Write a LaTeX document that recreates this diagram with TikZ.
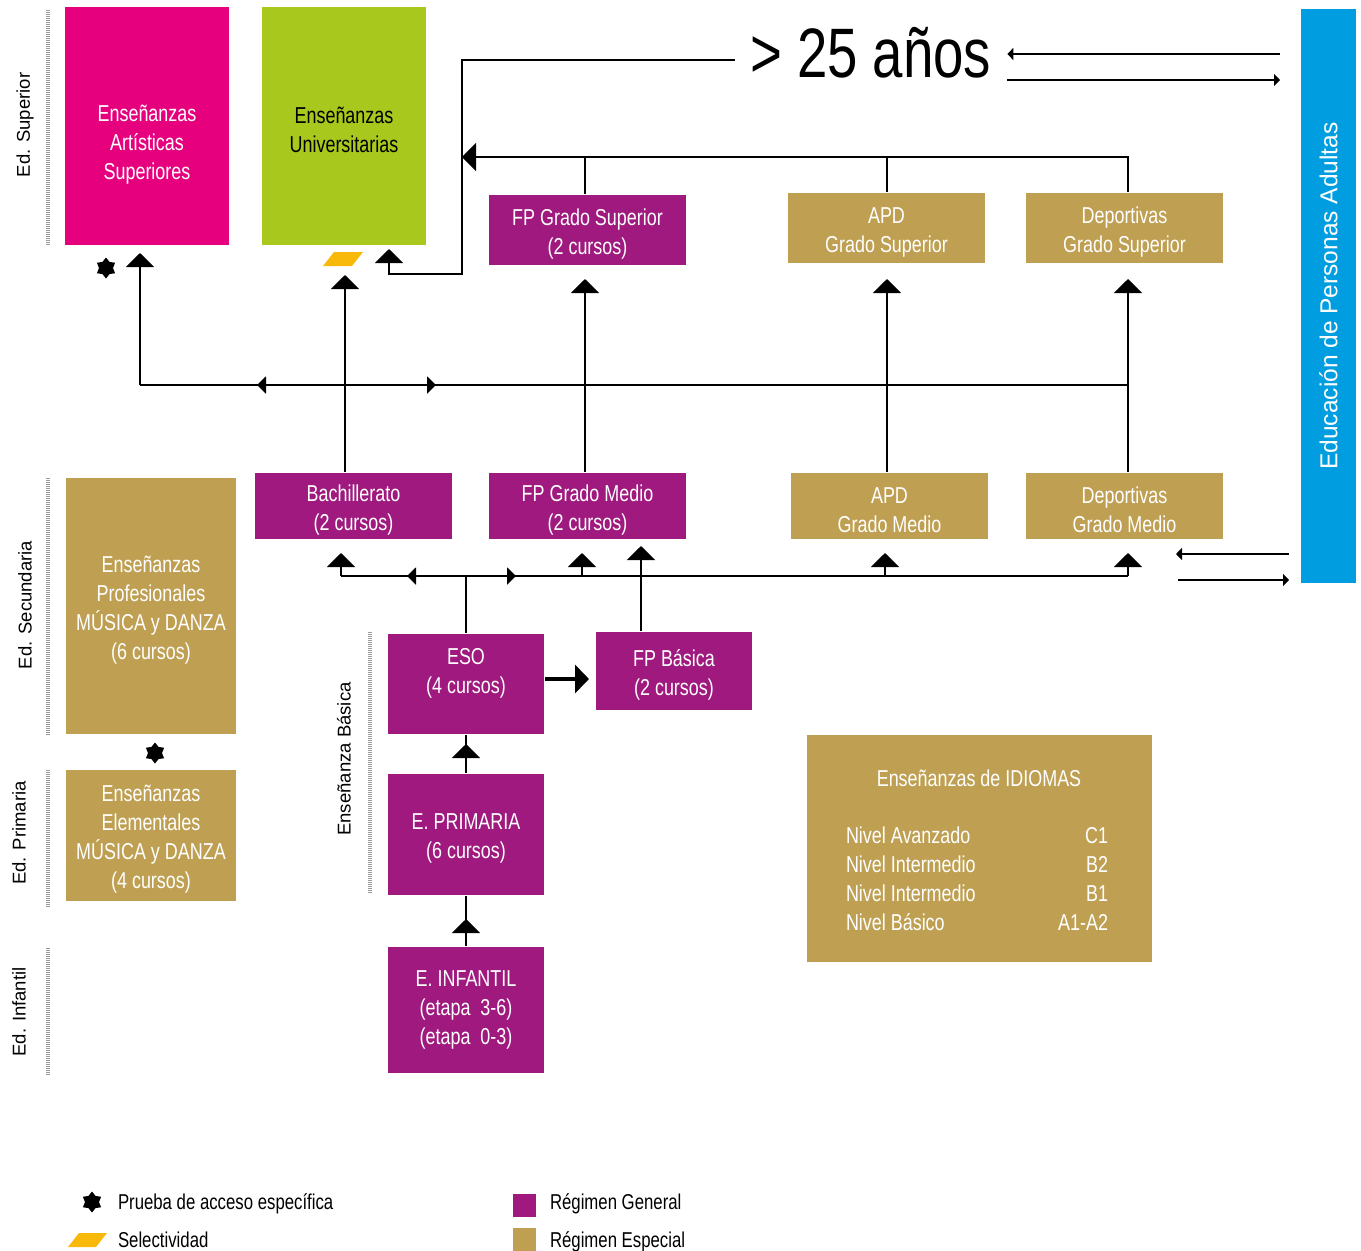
\documentclass[tikz,border=0pt]{standalone}
\usepackage{fontspec}
\setmainfont{Liberation Sans}
\newfontfamily\narrow[FakeStretch=0.78]{Liberation Sans}
\usetikzlibrary{arrows.meta,shapes.geometric}
\definecolor{rosa}{RGB}{230,0,126}
\definecolor{verde}{RGB}{168,200,30}
\definecolor{morado}{RGB}{159,25,127}
\definecolor{oro}{RGB}{191,160,83}
\definecolor{azul}{RGB}{0,158,224}
\definecolor{amarillo}{RGB}{248,185,10}
\newcommand\alto{\rule{0pt}{24pt}}
\begin{document}
\begin{tikzpicture}[x=1pt,y=-1pt,line width=2pt,
  bigtip/.tip={Triangle[width=28pt,length=14pt]},
  midtip/.tip={Triangle[width=17pt,length=9pt]},
  thintip/.tip={Triangle[width=12pt,length=6pt]},
  txt/.style={text=white,align=center,inner sep=0pt,font=\narrow\fontsize{23}{29}\selectfont},
  box/.style={txt,fill=#1},
  lbl/.style={rotate=90,inner sep=0pt,font=\fontsize{18.5}{22}\selectfont},
  leg/.style={anchor=base west,inner sep=0pt,font=\narrow\fontsize{21.5}{26}\selectfont},
  bar/.style={line width=4pt,black!40,dash pattern=on 1pt off 1pt},
  acceso/.style={star,star points=6,star point ratio=1.5,fill=black,inner sep=0pt,minimum size=21pt}]
\useasboundingbox (0,0) rectangle (1361,1251);
\draw[bar] (48,10)--(48,245);
\draw[bar] (48,478)--(48,735);
\draw[bar] (48,770)--(48,908);
\draw[bar] (48,948)--(48,1075);
\draw[bar] (370,632)--(370,893);
\node[lbl] (lsup) at (25,125) {Ed. Superior};
\node[lbl] (lsec) at (25,605) {Ed. Secundaria};
\node[lbl] (lpri) at (19,833) {Ed. Primaria};
\node[lbl] (linf) at (19,1012) {Ed. Infantil};
\node[lbl] (lbas) at (344,759) {Enseñanza Básica};
\node[box=rosa,minimum width=164,minimum height=238] (art) at (147,126) {\alto~\\Enseñanzas\\Artísticas\\Superiores};
\node[box=verde,text=black,minimum width=164,minimum height=238] (uni) at (344,126) {\alto Enseñanzas\\Universitarias};
\node[box=morado,minimum width=197,minimum height=70] (fpgs) at (587.5,230) {\alto FP Grado Superior\\(2 cursos)};
\node[box=oro,minimum width=197,minimum height=70] (apdgs) at (886.5,228) {\alto APD\\Grado Superior};
\node[box=oro,minimum width=197,minimum height=70] (depgs) at (1124.5,228) {\alto Deportivas\\Grado Superior};
\node[box=morado,minimum width=197,minimum height=66] (bach) at (353.5,506) {\alto Bachillerato\\(2 cursos)};
\node[box=morado,minimum width=197,minimum height=66] (fpgm) at (587.5,506) {\alto FP Grado Medio\\(2 cursos)};
\node[box=oro,minimum width=197,minimum height=66] (apdgm) at (889.5,506) {\alto APD\\Grado Medio};
\node[box=oro,minimum width=197,minimum height=66] (depgm) at (1124.5,506) {\alto Deportivas\\Grado Medio};
\node[box=oro,minimum width=170,minimum height=256] (prof) at (151,606) {\alto Enseñanzas\\Profesionales\\MÚSICA y DANZA\\(6 cursos)};
\node[box=oro,minimum width=170,minimum height=131] (elem) at (151,835.5) {\alto Enseñanzas\\Elementales\\MÚSICA y DANZA\\(4 cursos)};
\node[box=morado,minimum width=156,minimum height=100] (eso) at (466,684) {\alto ESO\\(4 cursos)\\~\rule[-6pt]{0pt}{6pt}};
\node[box=morado,minimum width=156,minimum height=78] (fpb) at (674,671) {\alto FP Básica\\(2 cursos)};
\node[box=morado,minimum width=156,minimum height=121] (prim) at (466,834.5) {\alto E. PRIMARIA\\(6 cursos)};
\node[box=morado,minimum width=156,minimum height=126] (inf) at (466,1010) {E. INFANTIL\\(etapa~~3-6)\\(etapa~~0-3)};
\node[box=oro,minimum width=345,minimum height=227] (idi) at (979.5,848.5) {};
\node[txt] (iditit) at (979,778) {Enseñanzas de IDIOMAS};
\node[txt,anchor=north] (idiniv) at (977,822) {\begin{tabular*}{262pt}{@{}l@{\extracolsep{\fill}}r@{}}
Nivel Avanzado&C1\\Nivel Intermedio&B2\\Nivel Intermedio&B1\\Nivel Básico&A1-A2\end{tabular*}};
\node[fill=azul,text=white,rotate=90,inner sep=0pt,minimum width=574,minimum height=55,
  font=\fontsize{24.5}{29}\selectfont] (epa) at (1328.5,296) {Educación de Personas Adultas};
\node[anchor=base west,inner sep=0pt,font=\narrow\fontsize{70}{70}\selectfont] (edad) at (749,77) {> 25 años};
\node[acceso] (s1) at (106,268) {};
\node[acceso] (s2) at (155,753) {};
\node[acceso] (s3) at (92,1202) {};
\fill[amarillo] (323,266)--(352,266)--(363,252)--(334,252)--cycle;
\fill[amarillo] (68,1247)--(96,1247)--(107,1233)--(79,1233)--cycle;
\coordinate (xb) at (345,0); \coordinate (xf) at (585,0);
\coordinate (xp) at (887,0); \coordinate (xd) at (1128,0);
\coordinate (xq) at (641,0);
\coordinate (c1) at (140,385); \coordinate (c2) at (1128,385);
\draw (c1)--(c2);
\draw[-bigtip,shorten >=7] (c1)--(art.south -| c1);
\draw[-midtip] (c2)--(257,385);
\draw[-midtip] (c1)--(436,385);
\draw[-bigtip,shorten >=29] (bach.north -| xb)--(uni.south -| xb);
\draw[-bigtip,shorten >=13] (fpgm.north -| xf)--(fpgs.south -| xf);
\draw[-bigtip,shorten >=15] (apdgm.north -| xp)--(apdgs.south -| xp);
\draw[-bigtip,shorten >=15] (depgm.north -| xd)--(depgs.south -| xd);
\coordinate (t0) at (462,60); \coordinate (t1) at (462,157); \coordinate (t2) at (389,274);
\draw[-bigtip] (depgs.north -| xd) |- (t1);
\draw (fpgs.north -| xf)--(xf |- t1);
\draw (apdgs.north -| xp)--(xp |- t1);
\draw[-bigtip,shorten <=14,shorten >=3] (edad.west |- t0)--(t0) |- (t2)--(t2 |- uni.south);
\coordinate (r1) at (0,54); \coordinate (r2) at (0,80);
\coordinate (r3) at (1176,554); \coordinate (r4) at (1178,580);
\draw[-thintip,shorten <=20,shorten >=15] (epa.north |- r1)--(edad.east |- r1);
\draw[-thintip,shorten <=15,shorten >=20] (edad.east |- r2)--(epa.north |- r2);
\draw[-thintip,shorten <=11] (epa.north |- r3)--(r3);
\draw[-thintip,shorten >=11] (r4)--(epa.north |- r4);
\coordinate (l1) at (341,576); \coordinate (l2) at (1128,576);
\coordinate (l3) at (582,576); \coordinate (l4) at (885,576);
\draw (l1)--(l2);
\draw[-midtip] (l2)--(407,576);
\draw[-midtip] (l1)--(516,576);
\draw[-bigtip,shorten >=13] (l1)--(l1 |- bach.south);
\draw[-bigtip,shorten >=13] (l3)--(l3 |- fpgm.south);
\draw[-bigtip,shorten >=13] (l4)--(l4 |- apdgm.south);
\draw[-bigtip,shorten >=13] (l2)--(l2 |- depgm.south);
\draw (eso.north)--(eso.north |- l1);
\draw[-bigtip,shorten >=6] (fpb.north -| xq)--(xq |- fpgm.south);
\draw[-bigtip,line width=3.5pt,shorten >=6] (eso.east |- 0,679)--(fpb.west |- 0,679);
\draw (prim.north)--(eso.south);
\draw[-bigtip] (prim.north)--++(0,-29);
\draw (inf.north)--(prim.south);
\draw[-bigtip] (inf.north)--++(0,-27);
\node[leg] (lg1) at (117,1209) {Prueba de acceso específica};
\node[leg] (lg2) at (117,1247) {Selectividad};
\node[fill=morado,inner sep=0pt,minimum size=23] (sq1) at (524,1205) {};
\node[fill=oro,inner sep=0pt,minimum size=23] (sq2) at (524,1239) {};
\node[leg] (lg3) at (549,1209) {Régimen General};
\node[leg] (lg4) at (549,1247) {Régimen Especial};
\end{tikzpicture}
\end{document}
